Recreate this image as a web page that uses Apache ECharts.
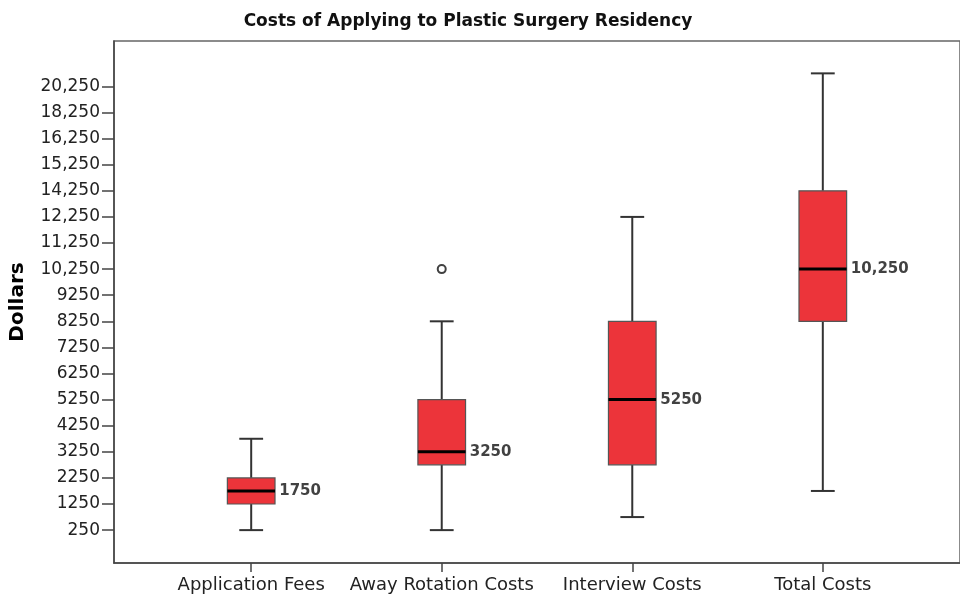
<!DOCTYPE html>
<html>
<head>
<meta charset="utf-8">
<script src="https://cdn.jsdelivr.net/npm/echarts@6/dist/echarts.min.js"></script>
<style>
  html, body { margin: 0; padding: 0; background: #fff; }
  #chart { width: 960px; height: 601px; }
</style>
</head>
<body>
<div id="chart"></div>
<script>
// y axis is ordinal: each tick is one cost bracket, evenly spaced
const tickLabels = ["250", "1250", "2250", "3250", "4250", "5250", "6250", "7250", "8250", "9250",
  "10,250", "11,250", "12,250", "14,250", "15,250", "16,250", "18,250", "20,250"];

const categories = ["Application Fees", "Away Rotation Costs", "Interview Costs", "Total Costs"];

// values are bracket positions on the axis above
const whiskerLow = [0, 0, 0.5, 1.5];
const boxLow = [1, 2.5, 2.5, 8];
const medians = [1.5, 3, 5, 10];
const boxHigh = [2, 5, 8, 13];
const whiskerHigh = [3.5, 8, 12, 17.5];
const medianLabels = ["1750", "3250", "5250", "10,250"];

const outliers = [[1, 10]];

const boxData = categories.map((c, i) =>
  [i, whiskerLow[i], boxLow[i], medians[i], boxHigh[i], whiskerHigh[i]]);

const chart = echarts.init(document.getElementById("chart"));

const renderBox = (params, api) => {
  const i = api.value(0);
  const band = api.size([1, 0])[0];
  const half = band * 0.125;
  const cap = half / 2;
  const [cx, yMin] = api.coord([i, api.value(1)]);
  const yQ1 = api.coord([i, api.value(2)])[1];
  const yMed = api.coord([i, api.value(3)])[1];
  const yQ3 = api.coord([i, api.value(4)])[1];
  const yMax = api.coord([i, api.value(5)])[1];
  const line = { stroke: "#333", lineWidth: 2 };
  return {
    type: "group",
    children: [
      { type: "line", shape: { x1: cx, y1: yMin, x2: cx, y2: yQ1 }, style: line },
      { type: "line", shape: { x1: cx, y1: yQ3, x2: cx, y2: yMax }, style: line },
      { type: "line", shape: { x1: cx - cap, y1: yMin, x2: cx + cap, y2: yMin }, style: line },
      { type: "line", shape: { x1: cx - cap, y1: yMax, x2: cx + cap, y2: yMax }, style: line },
      {
        type: "rect",
        shape: { x: cx - half, y: yQ3, width: half * 2, height: yQ1 - yQ3 },
        style: { fill: "#EC343A", stroke: "#555", lineWidth: 1.2 },
      },
      {
        type: "line",
        shape: { x1: cx - half, y1: yMed, x2: cx + half, y2: yMed },
        style: { stroke: "#000", lineWidth: 3 },
      },
    ],
  };
};

chart.setOption({
  animation: false,
  title: {
    text: "Costs of Applying to Plastic Surgery Residency",
    left: 463,
    textAlign: "center",
    top: 8,
    textStyle: { fontFamily: "DejaVu Sans", fontSize: 17, fontWeight: "bold", color: "#111" },
  },
  grid: {
    left: 113, top: 41, width: 857, bottom: 38,
    show: true, borderColor: "#666", borderWidth: 1.5, backgroundColor: "#fff",
  },
  xAxis: {
    type: "value",
    min: -0.72,
    max: 3.72,
    splitLine: { show: false },
    axisLine: { onZero: false, lineStyle: { color: "#444", width: 1.5 } },
    axisTick: { customValues: [0, 1, 2, 3], length: 9, lineStyle: { color: "#444", width: 1.5 } },
    axisLabel: {
      customValues: [0, 1, 2, 3],
      formatter: (v) => categories[Math.round(v)],
      margin: 13,
      fontFamily: "DejaVu Sans",
      fontSize: 18,
      color: "#222",
    },
  },
  yAxis: {
    type: "value",
    min: -1.26,
    max: 18.74,
    name: "Dollars",
    nameLocation: "middle",
    nameGap: 86,
    nameTextStyle: { fontFamily: "DejaVu Sans", fontSize: 20, fontWeight: "bold", color: "#000" },
    splitLine: { show: false },
    axisLine: { show: true, onZero: false, lineStyle: { color: "#444", width: 1.5 } },
    axisTick: {
      customValues: tickLabels.map((t, i) => i),
      length: 12,
      lineStyle: { color: "#444", width: 1.5 },
    },
    axisLabel: {
      customValues: tickLabels.map((t, i) => i),
      formatter: (v) => tickLabels[Math.round(v)],
      margin: 14,
      fontFamily: "DejaVu Sans",
      fontSize: 17,
      color: "#222",
    },
  },
  series: [
    {
      type: "custom",
      renderItem: renderBox,
      encode: { x: 0, y: [1, 2, 3, 4, 5] },
      data: boxData,
      z: 2,
    },
    {
      type: "scatter",
      data: medians.map((m, i) => [i, m]),
      symbolSize: 0,
      z: 3,
      label: {
        show: true,
        position: "right",
        distance: 28,
        formatter: (p) => medianLabels[p.dataIndex],
        fontFamily: "DejaVu Sans",
        fontSize: 15,
        fontWeight: "bold",
        color: "#111",
      },
    },
    {
      type: "scatter",
      data: outliers,
      symbol: "circle",
      symbolSize: 8,
      itemStyle: { color: "#fff", borderColor: "#111", borderWidth: 2 },
      z: 3,
    },
  ],
});
</script>
</body>
</html>
